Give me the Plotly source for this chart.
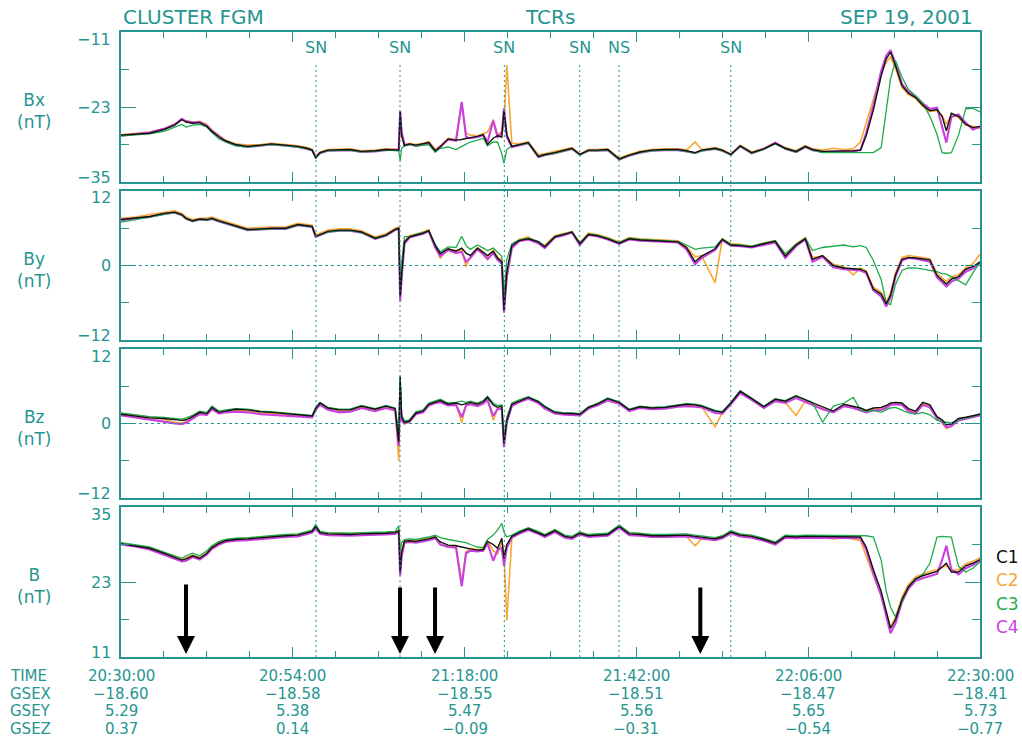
import pandas as pd
import plotly.graph_objects as go
from plotly.subplots import make_subplots

# ---------------- data ----------------
# sample times, minutes after 20:30:00 UT
T_MIN = [
    0, 2, 4, 6, 7.5, 8.5, 9.1, 10, 11, 12,
    12.7, 13.7, 14.6, 16, 17.7, 19.5, 21, 23, 24.7, 26,
    26.7, 27.2, 27.8, 28.9, 30.5, 32, 33.6, 35.5, 37, 38.3,
    38.8, 39.0, 39.2, 39.6, 40.3, 41.2, 42.2, 43.0, 43.9, 44.6,
    45.7, 46.8, 47.6, 48.2, 48.8, 49.8, 50.6, 51.2, 52.0, 52.6,
    53.2, 53.5, 53.9, 54.6, 55.6, 56.9, 58.3, 59.2, 60.6, 62,
    63, 64.1, 65.3, 66.5, 68, 69.6, 71, 72.5, 74.1, 76,
    77.8, 79, 80.2, 81.1, 83.0, 84.0, 85.2, 86.5, 88.1, 89.8,
    91.4, 92.8, 94.3, 95.6, 96.6, 98, 99.5, 101, 102.3, 103.3,
    104.1, 105.1, 106.2, 106.9, 107.5, 108.2, 109.1, 110, 111, 112,
    113, 114, 114.7, 115.3, 116, 117, 118, 119, 120]

BX_C1 = [
    -27.5, -27.3, -27.2, -26.6, -25.9, -25.0, -25.4, -25.6, -25.5, -26.1,
    -26.9, -27.8, -28.4, -29.0, -29.3, -29.1, -28.9, -29.1, -29.3, -29.6,
    -29.9, -31.1, -30.3, -29.9, -29.8, -29.8, -30.1, -30.0, -29.8, -29.8,
    -29.9, -23.8, -27.5, -29.2, -28.9, -29.1, -28.9, -28.7, -30.0, -29.4,
    -28.1, -28.3, -28.2, -28.0, -27.9, -27.7, -27.4, -29.0, -28.0, -27.6,
    -27.8, -23.6, -27.5, -29.3, -29.0, -28.7, -30.9, -30.6, -30.3, -29.9,
    -29.6, -30.6, -29.9, -29.9, -29.8, -31.3, -30.7, -30.2, -29.9, -29.8,
    -29.8, -30.0, -30.3, -29.9, -29.6, -29.9, -30.6, -29.2, -30.3, -29.7,
    -28.8, -29.6, -30.1, -29.3, -29.8, -30.1, -30.1, -30.1, -30.0, -29.9,
    -27.6, -23.5, -18.0, -15.3, -14.2, -16.4, -19.6, -20.8, -21.5, -22.7,
    -23.6, -23.4, -24.5, -26.8, -24.0, -24.5, -25.8, -26.3, -26.1]
BX_C2 = [
    -27.4, -27.2, -27.0, -26.5, -25.7, -25.1, -25.2, -25.4, -25.3, -25.8,
    -26.7, -27.6, -28.3, -28.9, -29.1, -29.0, -28.8, -29.0, -29.2, -29.5,
    -29.8, -30.9, -30.2, -29.8, -29.7, -29.7, -30.0, -29.9, -29.7, -29.7,
    -29.8, -24.5, -27.8, -29.1, -28.8, -29.0, -28.8, -28.5, -29.8, -29.2,
    -28.0, -28.2, -22.4, -27.2, -27.5, -27.6, -27.3, -27.0, -25.0, -27.4,
    -27.0, -26.0, -16.3, -28.8, -28.9, -28.6, -30.6, -30.5, -30.1, -29.8,
    -29.5, -30.5, -29.8, -29.8, -29.7, -31.2, -30.6, -30.1, -29.8, -29.7,
    -29.7, -29.9, -28.6, -29.8, -29.5, -29.8, -30.5, -29.1, -30.2, -29.6,
    -28.7, -29.5, -30.0, -29.2, -29.7, -29.9, -29.6, -29.8, -29.7, -28.6,
    -25.6, -21.8, -17.6, -15.8, -15.0, -16.8, -19.9, -21.0, -21.6, -22.9,
    -23.7, -23.6, -24.3, -25.8, -24.2, -24.7, -25.9, -26.1, -26.4]
BX_C3 = [
    -27.6, -27.5, -27.3, -26.9, -26.3, -25.8, -26.2, -25.9, -25.8, -26.2,
    -27.1, -28.1, -28.6, -29.2, -29.4, -29.2, -29.0, -29.2, -29.4, -29.7,
    -30.0, -31.2, -30.4, -30.0, -29.9, -29.9, -30.2, -30.1, -29.9, -29.9,
    -30.0, -31.6, -29.6, -29.2, -29.0, -29.3, -29.1, -29.0, -30.2, -29.6,
    -29.4, -29.8, -29.3, -28.9, -28.6, -28.3, -28.0, -29.2, -28.6, -28.6,
    -30.5, -32.0, -29.8, -29.2, -29.0, -28.8, -31.0, -30.7, -30.4, -30.0,
    -29.7, -30.7, -30.0, -30.0, -29.9, -31.4, -30.8, -30.3, -30.0, -29.9,
    -29.9, -30.1, -30.4, -30.0, -29.7, -30.0, -30.7, -29.3, -30.4, -29.8,
    -28.9, -29.7, -30.2, -29.4, -29.9, -30.3, -30.3, -30.2, -30.3, -30.3,
    -30.3, -30.3, -29.5, -24.0, -18.5, -15.6, -18.2, -20.2, -21.2, -22.4,
    -24.5, -27.4, -30.3, -30.4, -30.3, -27.5, -23.3, -23.2, -23.8]
BX_C4 = [
    -27.6, -27.4, -27.1, -26.5, -25.8, -24.9, -25.3, -25.5, -25.4, -26.0,
    -26.8, -27.7, -28.5, -29.1, -29.4, -29.2, -29.0, -29.2, -29.4, -29.7,
    -29.9, -31.0, -30.4, -30.0, -29.9, -29.9, -30.2, -30.1, -29.9, -29.9,
    -29.8, -23.6, -27.0, -29.0, -29.0, -29.2, -29.0, -28.8, -30.1, -29.3,
    -28.2, -28.4, -22.2, -27.8, -28.0, -27.8, -27.5, -28.6, -25.2, -27.8,
    -27.2, -23.2, -27.8, -29.4, -29.1, -28.8, -31.0, -30.7, -30.4, -30.0,
    -29.7, -30.6, -30.0, -30.0, -29.9, -31.4, -30.8, -30.3, -30.0, -29.9,
    -29.9, -30.1, -30.4, -30.0, -29.7, -30.0, -30.6, -29.3, -30.4, -29.7,
    -28.7, -29.7, -30.2, -29.4, -29.9, -30.2, -30.2, -30.1, -30.1, -29.9,
    -27.2, -22.8, -17.2, -14.8, -13.9, -16.0, -19.3, -20.6, -21.3, -22.4,
    -23.3, -23.1, -26.0, -28.7, -24.6, -24.2, -25.5, -26.6, -26.2]

BY_C1 = [
    7.4, 7.6, 7.9, 8.4, 8.6, 8.2, 7.6, 7.2, 7.5, 7.4,
    7.6, 7.2, 6.9, 6.4, 5.8, 5.9, 6.0, 6.0, 6.6, 6.4,
    6.3, 4.7, 5.0, 5.5, 5.7, 5.7, 5.4, 4.4, 4.9, 5.8,
    6.0, -5.0, -1.5, 3.8, 4.6, 4.9, 5.2, 5.6, 3.2, 1.9,
    2.7, 2.3, 2.8, 2.0, 1.6, 2.8, 2.1, 1.6, 2.3, 1.2,
    0.6, -7.2, -1.0, 3.2, 4.0, 4.3, 3.8, 3.0, 4.6, 5.0,
    5.4, 3.5, 5.0, 4.8, 4.3, 3.6, 4.3, 4.1, 4.0, 3.9,
    3.8, 2.9, 0.6, 1.5, 2.7, 4.2, 3.3, 3.2, 3.0, 3.5,
    3.9, 1.5, 3.3, 4.3, 1.0, 1.6, 0.0, -0.4, -0.5, -0.6,
    -1.0, -3.8, -4.6, -6.2, -4.8, -1.5, 1.0, 1.3, 1.2, 1.0,
    0.9, -1.6, -2.4, -3.0, -2.2, -1.8, -0.6, -0.2, 0.6]
BY_C2 = [
    7.6, 7.8, 8.2, 8.6, 8.8, 8.4, 7.8, 7.4, 7.6, 7.6,
    7.8, 7.4, 7.1, 6.6, 6.0, 6.1, 6.2, 6.2, 6.8, 6.6,
    6.5, 5.0, 5.2, 5.7, 5.9, 5.9, 5.6, 4.6, 5.1, 6.0,
    6.2, -5.5, -2.5, 3.9, 4.8, 5.1, 5.4, 5.8, 3.0, 1.2,
    2.6, 2.4, 2.5, -0.2, 1.5, 2.9, 2.2, 1.4, 2.5, 1.4,
    0.8, -6.0, -2.0, 3.0, 4.2, 4.6, 3.6, 3.3, 4.8, 5.2,
    5.5, 3.7, 5.2, 5.0, 4.5, 3.8, 4.5, 4.3, 4.2, 4.1,
    4.0, 3.0, 1.4, 1.6, -2.8, 4.3, 3.5, 3.4, 3.1, 3.6,
    4.0, 1.7, 3.5, 4.5, 1.3, 1.5, 0.2, -0.2, -1.5, -0.4,
    -0.9, -3.5, -4.3, -5.9, -4.4, -1.2, 1.3, 1.6, 1.5, 1.3,
    1.1, -1.3, -2.0, -2.6, -1.8, -1.5, -0.4, 0.3, 1.8]
BY_C3 = [
    7.0, 7.4, 7.8, 8.3, 8.5, 8.1, 7.5, 7.1, 7.4, 7.3,
    7.5, 7.1, 6.8, 6.3, 5.7, 5.8, 5.9, 5.9, 6.5, 6.3,
    6.2, 4.7, 4.9, 5.4, 5.6, 5.6, 5.3, 4.3, 4.8, 5.8,
    5.9, -3.5, 0.5, 4.6, 4.7, 5.0, 5.3, 5.6, 3.4, 2.2,
    3.0, 2.9, 4.7, 3.2, 2.6, 3.3, 2.8, 2.4, 2.8, 2.2,
    1.5, -5.0, 1.0, 3.5, 4.1, 4.4, 3.9, 3.1, 4.7, 5.1,
    5.4, 3.6, 5.1, 4.9, 4.4, 3.7, 4.4, 4.2, 4.1, 4.0,
    3.9, 3.3, 2.6, 2.8, 3.0, 4.3, 3.4, 3.3, 3.1, 3.6,
    4.0, 1.9, 3.4, 4.4, 2.4, 2.9, 3.1, 3.3, 3.0, 3.2,
    2.9, 0.8, -2.3, -6.0, -6.3, -3.0, -0.8, -0.4, -0.4, -0.6,
    -0.9, -1.0, -1.3, -1.4, -1.8, -2.5, -3.1, -1.2, 0.5]
BY_C4 = [
    7.3, 7.5, 7.8, 8.3, 8.5, 8.1, 7.5, 7.1, 7.4, 7.3,
    7.5, 7.1, 6.8, 6.3, 5.7, 5.8, 5.9, 5.9, 6.5, 6.3,
    6.2, 4.6, 4.9, 5.4, 5.6, 5.6, 5.3, 4.3, 4.8, 5.7,
    5.9, -5.8, -2.0, 3.5, 4.5, 4.8, 5.1, 5.5, 2.9, 1.5,
    2.5, 2.0, 2.2, 0.6, 1.2, 2.6, 1.8, 1.0, 2.0, 0.9,
    0.3, -7.6, -1.8, 2.8, 3.9, 4.2, 3.6, 2.8, 4.5, 4.9,
    5.3, 3.3, 4.9, 4.7, 4.2, 3.5, 4.2, 4.0, 3.9, 3.8,
    3.7, 2.6, 0.2, 1.2, 2.5, 4.1, 3.2, 3.1, 2.9, 3.3,
    3.7, 1.2, 3.1, 4.2, 0.6, 1.4, -0.3, -0.6, -0.7, -0.8,
    -1.2, -4.0, -5.0, -6.6, -5.1, -1.8, 0.8, 1.2, 1.1, 0.8,
    0.6, -1.9, -2.7, -3.4, -2.6, -2.1, -1.0, -0.5, 0.4]

BZ_C1 = [
    1.5, 1.2, 0.9, 0.8, 0.6, 0.5, 0.6, 1.1, 1.8, 1.6,
    2.6, 1.8, 2.0, 2.3, 2.2, 1.9, 1.8, 1.6, 1.5, 1.3,
    1.2, 2.4, 3.3, 2.5, 2.2, 2.2, 2.8, 2.3, 2.8, 2.4,
    -3.0, 7.5, 1.0, 0.2, 0.4, 1.7, 2.0, 3.1, 3.5, 3.7,
    3.1, 3.3, 3.0, 3.2, 3.4, 3.1, 3.5, 4.2, 3.0, 2.6,
    2.8, -3.2, 0.5, 3.1, 3.6, 4.2, 3.5, 2.7, 1.8, 1.6,
    1.6, 1.5, 2.6, 3.1, 4.0, 3.4, 2.2, 2.7, 2.5, 2.6,
    2.9, 3.1, 3.0, 2.8, 2.0, 1.8, 3.3, 5.2, 4.0, 2.7,
    3.9, 3.6, 4.4, 3.8, 3.3, 2.6, 2.0, 3.1, 2.8, 2.5,
    2.1, 2.5, 2.6, 2.9, 3.3, 3.4, 3.3, 2.4, 2.0, 3.4,
    3.0, 1.1, 0.6, -0.2, -0.1, 0.8, 1.0, 1.2, 1.5]
BZ_C2 = [
    1.6, 1.3, 1.0, 0.7, 0.2, 0.1, 0.3, 0.9, 1.6, 1.5,
    2.4, 1.7, 1.9, 2.1, 2.0, 1.7, 1.6, 1.4, 1.3, 1.1,
    1.1, 2.3, 3.1, 2.3, 2.0, 2.0, 2.6, 2.1, 2.6, 2.2,
    -6.0, 6.0, 0.8, 0.0, 0.2, 1.5, 1.9, 3.0, 3.4, 3.5,
    3.0, 3.1, 0.1, 3.0, 3.2, 2.9, 3.3, 3.9, 0.5, 2.4,
    2.5, -3.6, 0.4, 2.9, 3.5, 4.1, 3.4, 2.5, 1.7, 1.5,
    1.5, 1.4, 2.5, 3.0, 3.8, 3.3, 2.1, 2.6, 2.4, 2.5,
    2.8, 2.9, 2.8, 2.7, -0.5, 1.7, 3.2, 5.0, 3.9, 2.6,
    3.7, 3.4, 1.3, 3.6, 3.1, 2.4, 1.9, 2.9, 2.6, 2.3,
    2.0, 2.3, 2.4, 2.7, 3.1, 3.2, 3.1, 2.2, 1.8, 3.2,
    2.8, 0.9, 0.1, -0.8, -0.5, 0.6, 0.9, 1.1, 1.4]
BZ_C3 = [
    1.7, 1.4, 1.1, 1.0, 0.8, 0.7, 0.9, 1.3, 2.0, 1.8,
    2.8, 2.0, 2.2, 2.4, 2.3, 2.0, 1.9, 1.7, 1.6, 1.4,
    1.3, 2.6, 3.4, 2.6, 2.3, 2.3, 2.9, 2.4, 2.9, 2.5,
    -1.5, 7.7, 1.5, 0.4, 0.6, 1.9, 2.2, 3.3, 3.7, 3.9,
    3.3, 3.4, 3.6, 3.4, 3.6, 3.3, 3.7, 4.4, 3.3, 2.9,
    3.0, -2.0, 1.0, 3.3, 3.8, 4.3, 3.6, 2.8, 1.9, 1.7,
    1.7, 1.6, 2.7, 3.2, 4.1, 3.5, 2.3, 2.8, 2.6, 2.7,
    3.0, 3.2, 3.1, 2.9, 2.1, 1.9, 3.4, 5.3, 4.1, 2.8,
    4.0, 3.7, 4.5, 3.9, 3.4, 0.2, 2.8, 3.3, 4.2, 2.2,
    1.9, 2.1, 1.8, 2.2, 2.5, 2.6, 2.1, 1.7, 1.5, 1.8,
    1.4, 0.5, 0.4, 0.2, 0.1, 0.6, 0.9, 1.1, 1.6]
BZ_C4 = [
    1.3, 1.0, 0.6, 0.3, 0.0, -0.1, 0.1, 0.7, 1.5, 1.4,
    2.3, 1.6, 1.8, 1.9, 1.8, 1.5, 1.4, 1.3, 1.2, 1.0,
    1.0, 2.2, 3.0, 2.2, 1.8, 1.9, 2.5, 2.0, 2.5, 2.1,
    -3.6, 5.5, 0.4, 0.0, 0.3, 1.5, 1.8, 2.9, 3.3, 3.4,
    2.9, 3.0, 1.0, 2.9, 3.1, 2.8, 3.2, 3.8, 1.2, 2.3,
    2.4, -3.8, 0.2, 2.8, 3.4, 4.0, 3.3, 2.4, 1.6, 1.4,
    1.4, 1.3, 2.4, 2.9, 3.7, 3.2, 2.0, 2.5, 2.3, 2.4,
    2.7, 2.8, 2.7, 2.6, 1.7, 1.6, 3.1, 4.9, 3.8, 2.5,
    3.6, 3.3, 4.1, 3.5, 3.0, 2.3, 1.8, 2.8, 2.5, 2.1,
    1.8, 2.1, 2.2, 2.5, 3.0, 3.1, 3.0, 2.0, 1.6, 3.0,
    2.6, 0.8, 0.2, -0.6, -0.4, 0.5, 0.8, 1.0, 1.3]

B_C1 = [
    29.1, 28.8, 28.4, 27.6, 27.0, 26.5, 26.7, 27.2, 26.8, 27.6,
    28.5, 29.2, 29.6, 29.8, 29.9, 30.1, 30.2, 30.4, 30.5, 30.9,
    31.1, 31.9, 30.9, 30.7, 30.6, 30.6, 30.7, 30.7, 30.8, 30.9,
    31.2, 24.5, 27.8, 29.5, 29.6, 29.5, 29.7, 29.9, 30.2, 29.4,
    28.9, 28.8, 28.6, 28.5, 28.3, 28.1, 28.2, 29.5, 29.0, 28.4,
    30.0, 26.8, 29.0, 30.3, 30.9, 31.5, 30.9, 30.4, 31.2, 30.3,
    30.1, 30.8, 30.4, 30.5, 30.6, 31.9, 30.7, 30.6, 30.4, 30.4,
    30.4, 30.5, 30.3, 30.2, 29.9, 30.2, 31.0, 30.5, 30.3, 29.8,
    29.2, 30.3, 30.2, 30.3, 30.3, 30.3, 30.3, 30.3, 30.3, 30.2,
    28.6, 25.0, 21.5, 18.2, 15.6, 17.0, 20.2, 22.2, 23.5, 24.0,
    24.3, 24.7, 25.4, 26.0, 24.6, 24.6, 25.6, 26.0, 26.6]
B_C2 = [
    29.2, 28.9, 28.5, 27.7, 27.1, 26.6, 26.9, 27.3, 26.9, 27.7,
    28.6, 29.3, 29.7, 29.9, 30.0, 30.2, 30.3, 30.5, 30.6, 31.0,
    31.2, 32.0, 31.0, 30.8, 30.7, 30.7, 30.8, 30.8, 30.9, 31.0,
    31.3, 25.5, 28.0, 29.6, 29.7, 29.6, 29.8, 30.0, 30.3, 29.0,
    28.7, 28.9, 23.0, 27.8, 28.4, 28.2, 28.3, 29.6, 28.0, 27.5,
    29.5, 27.5, 16.9, 30.0, 31.0, 31.6, 31.0, 30.5, 31.3, 30.4,
    30.2, 30.9, 30.5, 30.6, 30.7, 32.0, 30.8, 30.7, 30.5, 30.5,
    30.5, 30.3, 28.8, 29.9, 30.0, 30.3, 31.1, 30.6, 30.4, 29.9,
    29.3, 30.4, 30.3, 30.4, 30.4, 30.1, 29.9, 30.1, 29.9, 29.6,
    27.0, 24.0, 20.8, 18.0, 15.8, 17.4, 20.6, 22.6, 23.8, 24.3,
    24.6, 25.0, 25.3, 25.6, 24.8, 25.0, 25.9, 26.3, 26.9]
B_C3 = [
    29.3, 29.0, 28.6, 27.8, 27.2, 26.8, 27.2, 27.6, 27.2, 28.0,
    28.8, 29.5, 29.8, 30.0, 30.1, 30.3, 30.4, 30.6, 30.7, 31.1,
    31.3, 32.2, 31.1, 30.9, 30.8, 30.8, 30.9, 30.9, 31.0, 31.1,
    32.0, 28.0, 29.3, 29.8, 29.9, 29.8, 30.0, 30.2, 30.5, 30.1,
    29.8, 29.6, 29.4, 29.3, 29.0, 28.6, 28.5, 29.8, 30.5, 31.3,
    32.4, 31.0, 30.2, 30.5, 31.1, 31.7, 31.1, 30.6, 31.4, 30.5,
    30.3, 31.0, 30.6, 30.7, 30.8, 32.1, 30.9, 30.8, 30.6, 30.6,
    30.6, 30.7, 30.5, 30.4, 30.1, 30.4, 31.2, 30.7, 30.5, 30.0,
    29.4, 30.5, 30.4, 30.5, 30.5, 30.5, 30.5, 30.5, 30.5, 30.4,
    30.4, 30.2, 26.5, 21.5, 19.0, 17.4, 20.0, 22.3, 23.4, 24.2,
    26.0, 30.2, 30.3, 30.3, 30.2, 25.5, 24.6, 25.2, 26.2]
B_C4 = [
    29.0, 28.7, 28.2, 27.4, 26.8, 26.3, 26.4, 27.0, 26.6, 27.4,
    28.3, 29.0, 29.4, 29.6, 29.7, 29.9, 30.0, 30.2, 30.3, 30.7,
    30.9, 31.6, 30.7, 30.5, 30.4, 30.4, 30.5, 30.5, 30.6, 30.7,
    31.0, 24.0, 27.0, 29.3, 29.4, 29.3, 29.5, 29.7, 30.0, 29.0,
    28.6, 28.5, 22.3, 27.6, 28.0, 27.9, 28.0, 29.2, 26.4, 28.1,
    28.5, 25.6, 28.5, 30.1, 30.7, 31.3, 30.7, 30.2, 31.0, 30.1,
    29.9, 30.6, 30.2, 30.3, 30.4, 31.7, 30.5, 30.4, 30.2, 30.2,
    30.2, 30.3, 30.1, 30.0, 29.7, 30.0, 30.8, 30.3, 30.1, 29.6,
    29.0, 30.1, 30.0, 30.1, 30.1, 30.1, 30.1, 30.1, 30.1, 30.0,
    28.2, 24.4, 20.8, 17.5, 14.8, 16.4, 19.8, 21.9, 23.2, 23.6,
    23.9, 24.3, 26.5, 28.8, 25.0, 24.2, 25.2, 25.7, 26.4]

SPACECRAFT = ["C1", "C2", "C3", "C4"]
PANELS = [
    ("Bx", [-35, -23, -11], [BX_C1, BX_C2, BX_C3, BX_C4]),
    ("By", [-12, 0, 12], [BY_C1, BY_C2, BY_C3, BY_C4]),
    ("Bz", [-12, 0, 12], [BZ_C1, BZ_C2, BZ_C3, BZ_C4]),
    ("B", [11, 23, 35], [B_C1, B_C2, B_C3, B_C4]),
]

# current-sheet crossings (minutes after 20:30) and their sense
EVENT_MIN = [27.24, 38.98, 53.55, 64.08, 69.57, 85.18]
EVENT_TXT = ["SN", "SN", "SN", "SN", "NS", "SN"]

# arrows marking intervals discussed in the text
ARROW_MIN = [9.08, 38.98, 43.87, 80.93]

# orbit table under the time axis
TICK_MIN = [0, 24, 48, 72, 96, 120]
TICK_TIME = ["20:30:00", "20:54:00", "21:18:00", "21:42:00", "22:06:00", "22:30:00"]
GSEX = ["\u221218.60", "\u221218.58", "\u221218.55", "\u221218.51", "\u221218.47", "\u221218.41"]
GSEY = ["5.29", "5.38", "5.47", "5.56", "5.65", "5.73"]
GSEZ = ["0.37", "0.14", "\u22120.09", "\u22120.31", "\u22120.54", "\u22120.77"]
ROW_NAMES = ["TIME", "GSEX", "GSEY", "GSEZ"]

# ---------------- styling ----------------
TEAL = "#26958f"
FONT = "DejaVu Sans"
COLORS = {"C1": "#111111", "C2": "#f7a836", "C3": "#1faa4e", "C4": "#c93fe0"}
WIDTHS = {"C1": 1.4, "C2": 1.6, "C3": 1.3, "C4": 2.1}
DRAW_ORDER = ["C2", "C4", "C3", "C1"]

BASE = pd.Timestamp("2001-09-19 20:30:00")


def to_time(minutes):
    return BASE + pd.to_timedelta(minutes, unit="min")


def tstr(minutes):
    return to_time(minutes).strftime("%Y-%m-%d %H:%M:%S.%f")


times = pd.DatetimeIndex([to_time(m) for m in T_MIN])

fig = make_subplots(rows=4, cols=1, shared_xaxes=True)

for row, (name, ticks, series) in enumerate(PANELS, start=1):
    by_sc = dict(zip(SPACECRAFT, series))
    for sc in DRAW_ORDER:
        fig.add_trace(
            go.Scatter(x=times, y=by_sc[sc], mode="lines", name=sc,
                       line=dict(color=COLORS[sc], width=WIDTHS[sc]),
                       showlegend=False, hoverinfo="skip"),
            row=row, col=1)

# panel geometry (fractions of the plotting area)
DOMAINS = [[0.76, 1.0], [0.5072, 0.7456], [0.2544, 0.4928], [0.0, 0.24]]

for i, (name, ticks, series) in enumerate(PANELS):
    ax = "" if i == 0 else str(i + 1)
    lo, mid, hi = ticks
    step = (hi - lo) / 4
    fig.layout["yaxis" + ax].update(
        domain=DOMAINS[i], range=[lo, hi], tickvals=ticks,
        showticklabels=False, ticks="inside", ticklen=15, tickwidth=1.3,
        tickcolor=TEAL, showline=True, linecolor=TEAL, linewidth=1.6,
        mirror="allticks", showgrid=False, zeroline=False,
        minor=dict(tickvals=[lo + step, hi - step], ticks="inside",
                   ticklen=8, tickwidth=1.3, tickcolor=TEAL, showgrid=False))
    fig.layout["xaxis" + ax].update(
        range=[to_time(0), to_time(120)], type="date",
        tickvals=[to_time(m) for m in TICK_MIN], showticklabels=False,
        ticks="inside", ticklen=10, tickwidth=1.3, tickcolor=TEAL,
        showline=True, linecolor=TEAL, linewidth=1.6, mirror="allticks",
        showgrid=False, zeroline=False,
        minor=dict(tickvals=[to_time(m) for m in range(0, 121, 6)],
                   ticks="inside", ticklen=6, tickwidth=1.3,
                   tickcolor=TEAL, showgrid=False))

    yref = "y" + ax
    # y tick labels
    for k, v in enumerate(ticks):
        shift = 5 if k == 0 else (-7 if k == 2 else 0)
        txt = str(v).replace("-", "\u2212")
        fig.add_annotation(x=-0.009, xref="paper", y=v, yref=yref,
                           text=txt, showarrow=False, xanchor="right",
                           yanchor="middle", yshift=shift,
                           font=dict(family=FONT, size=16, color=TEAL))
    # panel title
    fig.add_annotation(x=-0.101, xref="paper", y=0.5, yref=yref + " domain",
                       text=name + "<br>(nT)", showarrow=False,
                       xanchor="center", yanchor="middle", yshift=-4,
                       font=dict(family=FONT, size=17, color=TEAL))

# dotted zero lines in By and Bz
for ax in ["2", "3"]:
    fig.add_shape(type="line", xref="x" + ax + " domain", yref="y" + ax,
                  x0=0, x1=1, y0=0, y1=0,
                  line=dict(color=TEAL, width=1, dash="3px,3px"))

# crossing markers
for m, lab in zip(EVENT_MIN, EVENT_TXT):
    fig.add_shape(type="line", xref="x", yref="paper",
                  x0=tstr(m), x1=tstr(m), y0=0, y1=0.9504,
                  line=dict(color=TEAL, width=1, dash="2px,3px"))
    fig.add_annotation(x=tstr(m), xref="x", y=0.9744, yref="paper",
                       text=lab, showarrow=False, xanchor="center",
                       yanchor="middle",
                       font=dict(family=FONT, size=16, color=TEAL))

# arrows in the |B| panel
for k, m in enumerate(ARROW_MIN):
    fig.add_annotation(x=tstr(m), xref="x4", y=11.5, yref="y4",
                       ax=0, ay=-71 if k == 0 else -68, text="",
                       showarrow=True, arrowhead=2, arrowsize=0.9,
                       arrowwidth=4, arrowcolor="#000000")

# header
for txt, xp, anchor in [("CLUSTER FGM", 0.0, "left"),
                        ("TCRs", 0.499, "center"),
                        ("SEP 19, 2001", 0.994, "right")]:
    fig.add_annotation(x=xp, xref="paper", y=1.024, yref="paper",
                       text=txt, showarrow=False, xanchor=anchor,
                       yanchor="middle",
                       font=dict(family=FONT, size=20, color=TEAL))

# time / position table
ROW_Y = [-0.0304, -0.0584, -0.0864, -0.1144]
for name, yp in zip(ROW_NAMES, ROW_Y):
    fig.add_annotation(x=-0.1315, xref="paper", y=yp, yref="paper",
                       text=name, showarrow=False, xanchor="left",
                       yanchor="middle",
                       font=dict(family=FONT, size=15, color=TEAL))
for m, a, b, c, d in zip(TICK_MIN, TICK_TIME, GSEX, GSEY, GSEZ):
    for txt, yp in zip([a, b, c, d], ROW_Y):
        fig.add_annotation(x=tstr(m), xref="x4", y=yp, yref="paper",
                           text=txt, showarrow=False, xanchor="center",
                           yanchor="middle",
                           font=dict(family=FONT, size=15, color=TEAL))

# spacecraft key
for sc, yp in zip(SPACECRAFT, [0.16, 0.1232, 0.0848, 0.048]):
    fig.add_annotation(x=1.0163, xref="paper", y=yp, yref="paper",
                       text=sc, showarrow=False, xanchor="left",
                       yanchor="middle",
                       font=dict(family=FONT, size=17, color=COLORS[sc]))

fig.update_layout(
    width=1022, height=738,
    margin=dict(l=121, r=42, t=32, b=81),
    paper_bgcolor="white", plot_bgcolor="white",
    showlegend=False,
)

fig.write_html("out.html")
